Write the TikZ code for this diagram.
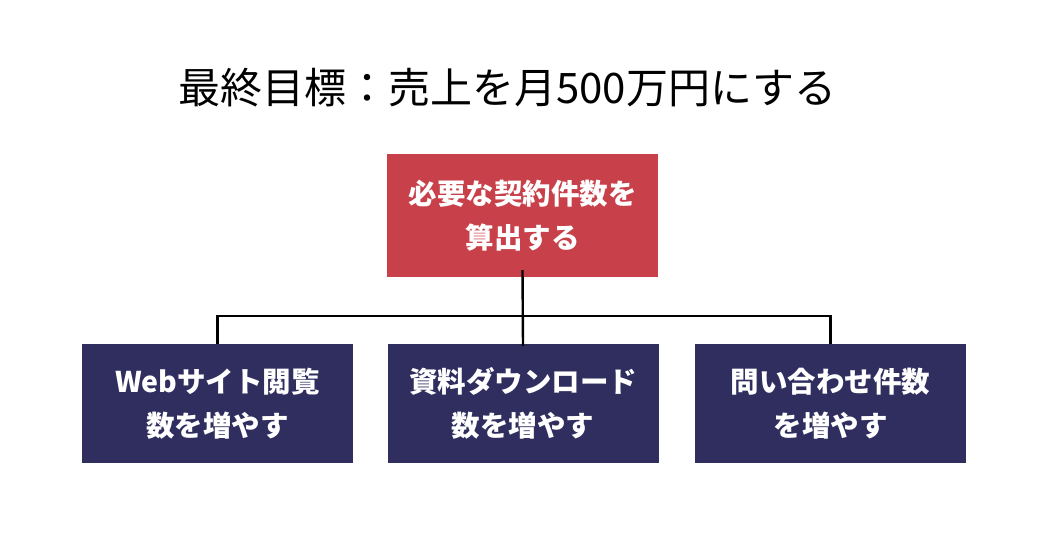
\documentclass[tikz,border=0pt]{standalone}
\usepackage{fontspec}
\newfontfamily\jpfont{Noto Sans CJK JP}
\usetikzlibrary{positioning}
\definecolor{goalred}{HTML}{C8414A}
\definecolor{kpinavy}{HTML}{2F2E5F}

\begin{document}
\begin{tikzpicture}[
    x=1pt, y=-1pt,
    box/.style = {minimum width=271pt, minimum height=119pt, inner sep=0pt,
        align=center, text=white,
        font=\jpfont\bfseries\fontsize{28.5}{44}\selectfont},
    link/.style = {draw=black, line width=2.4pt}
     ]
  \useasboundingbox[fill=white] (0,0) rectangle (1046,548);
  \node[font=\jpfont\fontsize{42}{50}\selectfont] (goal) at (507.5,88) {最終目標：売上を月500万円にする};
  \node[box, fill=goalred, minimum height=123pt] (need) at (522.5,215.5) {必要な契約件数を\\算出する};
  \node[box, fill=kpinavy] (dl) at (523,403.5) {資料ダウンロード\\数を増やす};
  \node[box, fill=kpinavy] (web) at (217.5,403.5) {Webサイト閲覧\\数を増やす};
  \node[box, fill=kpinavy] (inq) at (830.5,403.5) {問い合わせ件数\\を増やす};
  \draw[link] ([yshift=7pt]need.south) -- ([yshift=-2pt]dl.north);
  \draw[link] (web.north) -- ++(0,-28) -| (inq.north);
\end{tikzpicture}
\end{document}
